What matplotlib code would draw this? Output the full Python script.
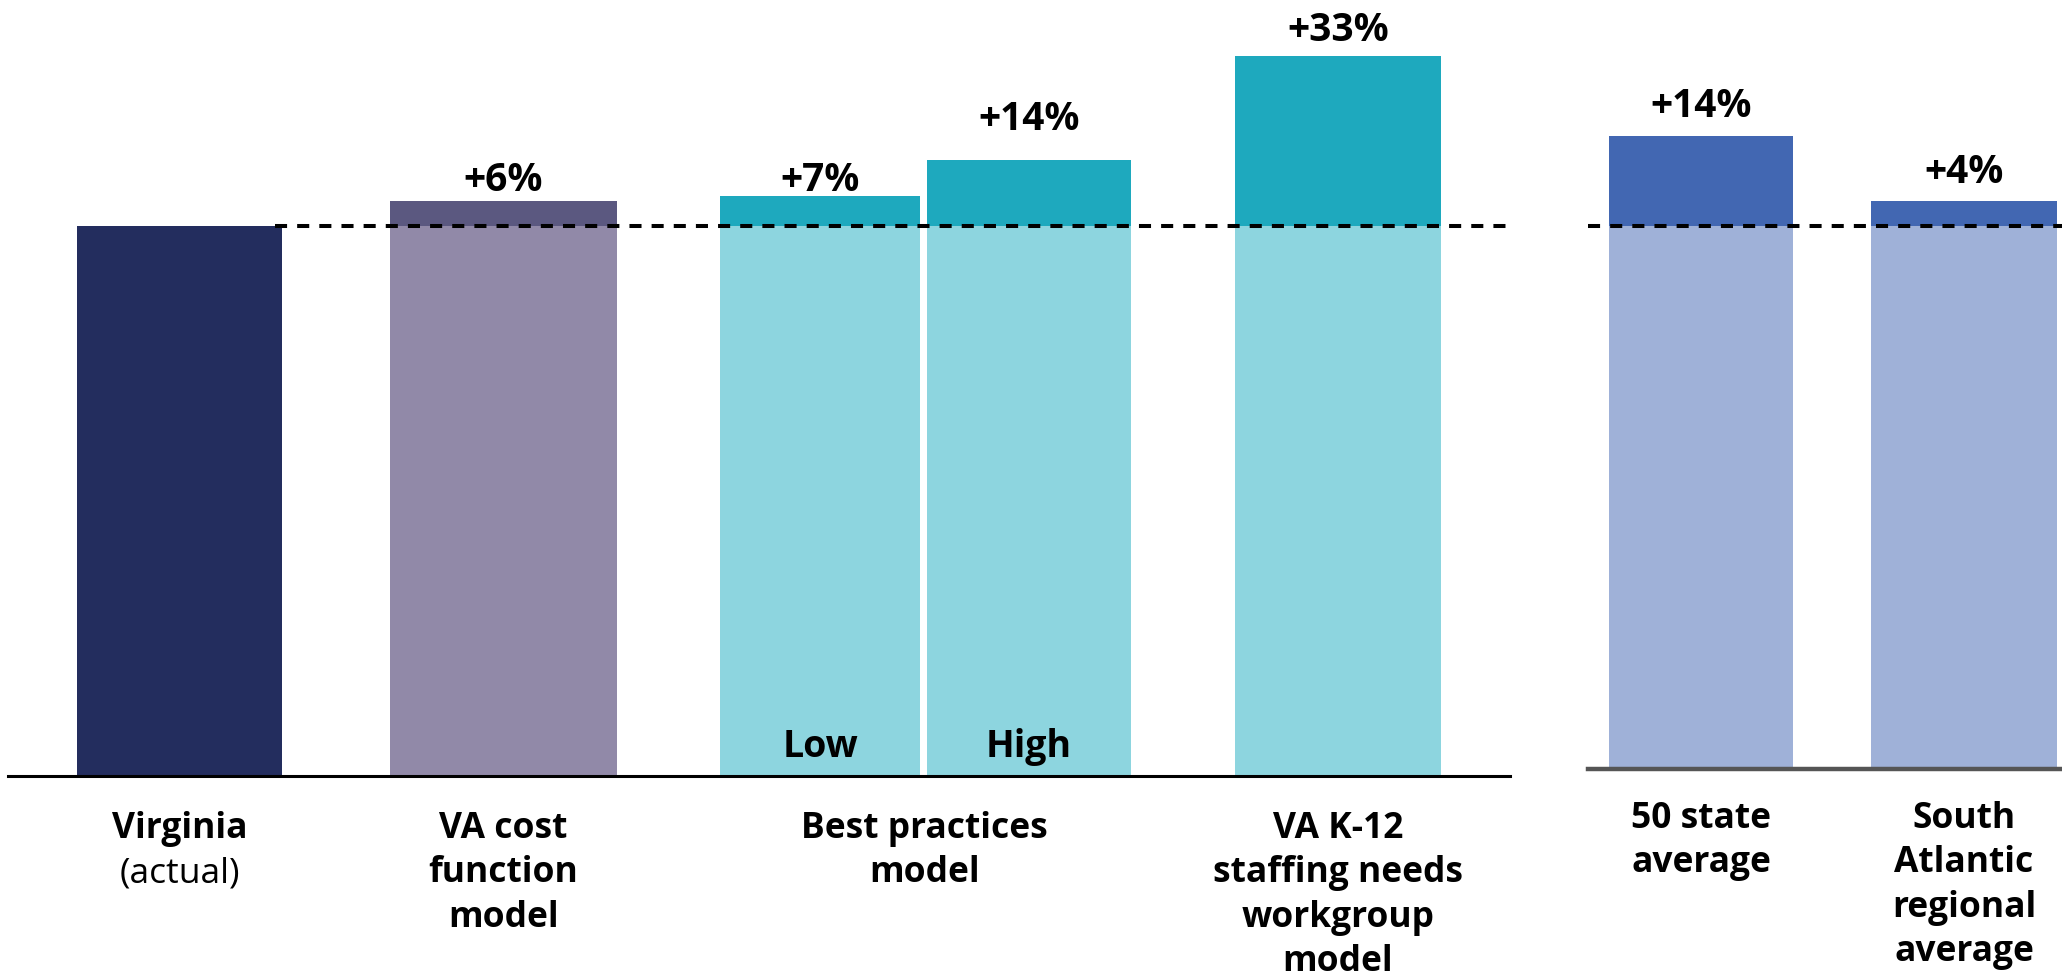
import matplotlib.pyplot as plt
import matplotlib.transforms as mtransforms

plt.rcParams['font.family'] = ['Open Sans', 'DejaVu Sans']

# data (bar heights relative to Virginia actual = 1)
left_labels = ['Virginia\n(actual)', 'VA cost\nfunction\nmodel', 'Best practices\nmodel', 'VA K-12\nstaffing needs\nworkgroup\nmodel']
left_values = [1.0, 1.045, 1.055, 1.12, 1.309]
left_pct = ['', '+6%', '+7%', '+14%', '+33%']
sub_labels = ['', '', 'Low', 'High', '']

right_labels = ['50 state\naverage', 'South\nAtlantic\nregional\naverage']
right_values = [1.166, 1.046]
right_pct = ['+14%', '+4%']

# colours: (lower part, upper part)
left_colors = [('#232d5e', '#232d5e'), ('#9189a8', '#5b5880'), ('#8dd5df', '#1ea9be'),
               ('#8dd5df', '#1ea9be'), ('#8dd5df', '#1ea9be')]
right_colors = [('#9fb1d8', '#4267b2'), ('#9fb1d8', '#4267b2')]

# layout (axes x units = pixels)
left_x = [171.5, 495.5, 812, 1021, 1330]
left_w = [205, 227, 200, 204, 206]
pct_gap_left = [0, 8, 4, 22, 11.5]
label_x_left = [171.5, 495.5, 916.5, 1330]
right_x = [113, 376]
right_w = [184, 186]
pct_gap_right = [14, 14]

W, H = 2062, 978
fig = plt.figure(figsize=(W / 100, H / 100), dpi=100)
ax1 = fig.add_axes([8 / W, (H - 777) / H, 1502 / W, 777 / H])
ax2 = fig.add_axes([1588 / W, (H - 770) / H, 474 / W, 770 / H])
ax1.set_xlim(0, 1502)
ax1.set_ylim(0, 777 / 550)
ax2.set_xlim(0, 474)
ax2.set_ylim(0, 770 / 543)

px = 72 / 100  # points per pixel


def draw_panel(ax, xs, ws, vals, cols, pcts, gaps):
    for x, w, v, c, p, g in zip(xs, ws, vals, cols, pcts, gaps):
        ax.bar(x, min(v, 1.0), width=w, color=c[0], zorder=2)
        if v > 1.0:
            ax.bar(x, v - 1.0, bottom=1.0, width=w, color=c[1], zorder=2)
        if p:
            ax.annotate(p, (x, v), xytext=(0, g), textcoords='offset points',
                        ha='center', va='baseline', fontsize=28, fontweight='bold')


draw_panel(ax1, left_x, left_w, left_values, left_colors, left_pct, pct_gap_left)
draw_panel(ax2, right_x, right_w, right_values, right_colors, right_pct, pct_gap_right)

for x, s in zip(left_x, sub_labels):
    if s:
        ax1.annotate(s, (x, 0), xytext=(0, 20 * px), textcoords='offset points',
                     ha='center', va='baseline', fontsize=27, fontweight='bold', zorder=3)


def draw_labels(ax, xs, labels, first):
    trans = mtransforms.blended_transform_factory(ax.transData, ax.transAxes)
    for x, lab in zip(xs, labels):
        for i, line in enumerate(lab.split('\n')):
            weight = 'normal' if line.startswith('(') else 'bold'
            ax.annotate(line, (x, 0), xycoords=trans,
                        xytext=(0, -(first + 44.5 * i) * px), textcoords='offset points',
                        ha='center', va='baseline', fontsize=25.5, fontweight=weight,
                        annotation_clip=False)


draw_labels(ax1, label_x_left, left_labels, 61)
draw_labels(ax2, right_x, right_labels, 58)

# reference dashed line at Virginia level
ax1.axhline(1.0, xmin=267 / 1502, xmax=1, color='black', lw=2.9,
            linestyle=(0, (3, 2.5)), zorder=4)
ax2.axhline(1.0, xmin=0, xmax=1, color='black', lw=2.9,
            linestyle=(0, (3, 2.5)), zorder=4)

for ax, col, lw in [(ax1, 'black', 2.2), (ax2, '#555555', 3.2)]:
    for s in ['top', 'right', 'left']:
        ax.spines[s].set_visible(False)
    ax.spines['bottom'].set_color(col)
    ax.spines['bottom'].set_linewidth(lw)
    ax.spines['bottom'].set_zorder(5)
    ax.set_xticks([])
    ax.set_yticks([])
    ax.patch.set_alpha(0)

fig.savefig('out.png', dpi=100)
